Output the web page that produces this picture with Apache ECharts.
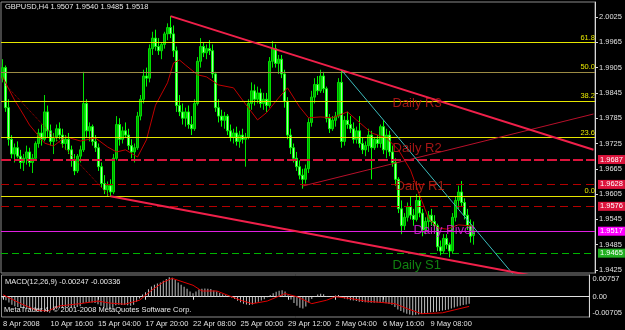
<!DOCTYPE html>
<html><head><meta charset="utf-8">
<script src="https://cdn.jsdelivr.net/npm/echarts@6/dist/echarts.min.js"></script>
<style>html,body{margin:0;padding:0;background:#000;}#c{width:625px;height:330px;}</style>
</head><body><div id="c"></div>
<script>
// ---------- DATA ----------
const symbolName = 'GBPUSD,H4';
// [open, high, low, close] per H4 bar
const candles = [
[1.9880,1.9925,1.9870,1.9905],[1.9905,1.9910,1.9800,1.9810],[1.9810,1.9830,1.9720,1.9735],[1.9735,1.9745,1.9690,1.9700],
[1.9700,1.9725,1.9680,1.9715],[1.9715,1.9730,1.9690,1.9695],[1.9695,1.9710,1.9665,1.9680],[1.9680,1.9700,1.9660,1.9690],
[1.9690,1.9720,1.9675,1.9705],[1.9705,1.9715,1.9670,1.9680],[1.9680,1.9700,1.9655,1.9690],[1.9690,1.9730,1.9685,1.9725],
[1.9725,1.9760,1.9715,1.9750],[1.9750,1.9770,1.9720,1.9735],[1.9735,1.9840,1.9730,1.9800],[1.9800,1.9815,1.9740,1.9755],
[1.9755,1.9770,1.9720,1.9730],[1.9730,1.9750,1.9700,1.9740],[1.9740,1.9770,1.9730,1.9760],[1.9760,1.9775,1.9735,1.9745],
[1.9745,1.9760,1.9715,1.9725],[1.9725,1.9745,1.9710,1.9735],[1.9735,1.9750,1.9700,1.9710],[1.9710,1.9720,1.9670,1.9685],
[1.9685,1.9700,1.9650,1.9660],[1.9660,1.9700,1.9655,1.9695],[1.9695,1.9720,1.9680,1.9710],[1.9710,1.9895,1.9705,1.9820],
[1.9820,1.9830,1.9740,1.9755],[1.9755,1.9775,1.9730,1.9765],[1.9765,1.9770,1.9720,1.9730],[1.9730,1.9745,1.9705,1.9715],
[1.9715,1.9725,1.9660,1.9670],[1.9670,1.9680,1.9620,1.9630],[1.9630,1.9650,1.9605,1.9615],[1.9615,1.9635,1.9600,1.9625],
[1.9625,1.9640,1.9600,1.9610],[1.9610,1.9700,1.9605,1.9690],[1.9690,1.9790,1.9685,1.9770],[1.9770,1.9785,1.9720,1.9735],
[1.9735,1.9765,1.9725,1.9755],[1.9755,1.9775,1.9740,1.9745],[1.9745,1.9760,1.9710,1.9720],[1.9720,1.9735,1.9690,1.9705],
[1.9705,1.9725,1.9680,1.9715],[1.9715,1.9800,1.9710,1.9790],[1.9790,1.9840,1.9780,1.9830],[1.9830,1.9900,1.9820,1.9885],
[1.9885,1.9905,1.9860,1.9880],[1.9880,1.9960,1.9870,1.9950],[1.9950,1.9990,1.9935,1.9975],[1.9975,1.9995,1.9945,1.9955],
[1.9955,1.9975,1.9935,1.9945],[1.9945,1.9965,1.9925,1.9960],[1.9960,1.9990,1.9950,1.9985],[1.9985,2.0010,1.9970,2.0000],
[2.0000,2.0027,1.9975,1.9985],[1.9985,2.0005,1.9930,1.9945],[1.9945,1.9955,1.9800,1.9815],[1.9815,1.9840,1.9790,1.9800],
[1.9800,1.9820,1.9770,1.9785],[1.9785,1.9810,1.9765,1.9800],[1.9800,1.9815,1.9760,1.9770],[1.9770,1.9790,1.9745,1.9760],
[1.9760,1.9830,1.9755,1.9820],[1.9820,1.9930,1.9815,1.9920],[1.9920,1.9975,1.9905,1.9955],[1.9955,1.9965,1.9930,1.9940],
[1.9940,1.9960,1.9925,1.9950],[1.9950,1.9970,1.9935,1.9945],[1.9945,1.9960,1.9880,1.9890],[1.9890,1.9895,1.9800,1.9810],
[1.9810,1.9830,1.9775,1.9790],[1.9790,1.9805,1.9765,1.9780],[1.9780,1.9800,1.9760,1.9790],[1.9790,1.9795,1.9745,1.9755],
[1.9755,1.9770,1.9730,1.9740],[1.9740,1.9760,1.9725,1.9750],[1.9750,1.9765,1.9720,1.9730],[1.9730,1.9755,1.9715,1.9745],
[1.9745,1.9760,1.9725,1.9735],[1.9735,1.9750,1.9670,1.9740],[1.9740,1.9830,1.9735,1.9820],[1.9820,1.9870,1.9805,1.9850],
[1.9850,1.9865,1.9815,1.9830],[1.9830,1.9860,1.9820,1.9845],[1.9845,1.9855,1.9810,1.9820],[1.9820,1.9845,1.9805,1.9830],
[1.9830,1.9845,1.9800,1.9815],[1.9815,1.9930,1.9810,1.9920],[1.9920,1.9968,1.9905,1.9950],[1.9950,1.9960,1.9905,1.9915],
[1.9915,1.9935,1.9890,1.9925],[1.9925,1.9935,1.9880,1.9890],[1.9890,1.9900,1.9810,1.9825],[1.9825,1.9835,1.9735,1.9745],
[1.9745,1.9760,1.9700,1.9715],[1.9715,1.9725,1.9680,1.9690],[1.9690,1.9705,1.9660,1.9670],[1.9670,1.9685,1.9640,1.9650],
[1.9650,1.9665,1.9618,1.9640],[1.9640,1.9675,1.9630,1.9665],[1.9665,1.9785,1.9655,1.9775],[1.9775,1.9850,1.9765,1.9835],
[1.9835,1.9880,1.9820,1.9865],[1.9865,1.9885,1.9840,1.9850],[1.9850,1.9900,1.9845,1.9885],[1.9885,1.9895,1.9845,1.9855],
[1.9855,1.9860,1.9775,1.9785],[1.9785,1.9795,1.9750,1.9760],[1.9760,1.9790,1.9755,1.9780],[1.9780,1.9800,1.9765,1.9790],
[1.9790,1.9880,1.9785,1.9870],[1.9870,1.9897,1.9715,1.9730],[1.9730,1.9790,1.9720,1.9780],[1.9780,1.9800,1.9760,1.9770],
[1.9770,1.9790,1.9750,1.9760],[1.9760,1.9775,1.9725,1.9735],[1.9735,1.9765,1.9725,1.9755],[1.9755,1.9790,1.9715,1.9725],
[1.9725,1.9740,1.9700,1.9710],[1.9710,1.9730,1.9695,1.9720],[1.9720,1.9760,1.9705,1.9745],[1.9745,1.9755,1.9640,1.9715],
[1.9715,1.9740,1.9710,1.9735],[1.9735,1.9745,1.9715,1.9725],[1.9725,1.9770,1.9715,1.9765],[1.9765,1.9780,1.9700,1.9710],
[1.9710,1.9760,1.9690,1.9745],[1.9745,1.9755,1.9695,1.9705],[1.9705,1.9720,1.9670,1.9680],[1.9680,1.9690,1.9625,1.9640],
[1.9640,1.9645,1.9560,1.9570],[1.9570,1.9590,1.9510,1.9530],[1.9530,1.9560,1.9520,1.9550],[1.9550,1.9585,1.9540,1.9575],
[1.9575,1.9600,1.9545,1.9555],[1.9555,1.9570,1.9530,1.9545],[1.9545,1.9605,1.9540,1.9590],[1.9590,1.9600,1.9550,1.9560],
[1.9560,1.9570,1.9505,1.9520],[1.9520,1.9550,1.9510,1.9540],[1.9540,1.9565,1.9525,1.9555],[1.9555,1.9570,1.9530,1.9540],
[1.9540,1.9555,1.9520,1.9530],[1.9530,1.9535,1.9470,1.9480],[1.9480,1.9495,1.9460,1.9470],[1.9470,1.9510,1.9465,1.9500],
[1.9500,1.9510,1.9475,1.9485],[1.9485,1.9490,1.9455,1.9470],[1.9470,1.9560,1.9465,1.9550],[1.9550,1.9600,1.9540,1.9590],
[1.9590,1.9625,1.9570,1.9610],[1.9610,1.9636,1.9575,1.9585],[1.9585,1.9595,1.9545,1.9555],[1.9555,1.9570,1.9520,1.9530],
[1.9530,1.9545,1.9490,1.9505],[1.9507,1.9540,1.9485,1.9518]
];
// moving average (bar index, price)
const maPoints = [[0,1.9883],[4,1.9828],[6,1.9805],[9,1.9769],[14,1.9726],[17,1.9719],[21,1.9741],[26,1.9731],[31,1.9738],[35,1.9717],[38,1.9705],[41,1.9710],[45,1.9693],[48,1.9734],[51,1.9816],[55,1.9869],[57,1.9916],[59,1.9923],[61,1.9911],[65,1.9888],[68,1.9883],[72,1.9864],[77,1.9857],[80,1.9828],[83,1.9800],[85,1.9781],[88,1.9798],[92,1.9833],[95,1.9857],[99,1.9812],[102,1.9786],[106,1.9788],[110,1.9786],[115,1.9800],[118,1.9781],[123,1.9750],[128,1.9738],[132,1.9710],[136,1.9662],[139,1.9603],[142,1.9548],[145,1.9525],[148,1.9522],[152,1.9532],[157,1.9529]];
// MACD main (histogram) per bar
const macdHist = [-0.0005,-0.0012,-0.0020,-0.0028,-0.0033,-0.0036,-0.0039,-0.0041,-0.0042,-0.0043,-0.0044,-0.0046,-0.0049,-0.0051,-0.0053,-0.0050,-0.0048,-0.0045,-0.0042,-0.0040,-0.0039,-0.0037,-0.0036,-0.0037,-0.0038,-0.0036,-0.0033,-0.0022,-0.0020,-0.0019,-0.0020,-0.0022,-0.0026,-0.0031,-0.0036,-0.0040,-0.0042,-0.0038,-0.0030,-0.0028,-0.0029,-0.0029,-0.0030,-0.0031,-0.0028,-0.0017,-0.0006,0.0008,0.0016,0.0026,0.0036,0.0042,0.0046,0.0050,0.0056,0.0062,0.0068,0.0066,0.0058,0.0050,0.0042,0.0035,0.0028,0.0018,0.0012,0.0018,0.0025,0.0028,0.0029,0.0028,0.0027,0.0022,0.0018,0.0013,0.0009,0.0005,0.0002,-0.0003,-0.0008,-0.0014,-0.0019,-0.0024,-0.0027,-0.0029,-0.0027,-0.0022,-0.0017,-0.0013,-0.0009,-0.0002,0.0006,0.0012,0.0017,0.0021,0.0023,0.0018,0.0005,-0.0010,-0.0022,-0.0031,-0.0038,-0.0041,-0.0034,-0.0020,-0.0008,0.0002,0.0008,0.0010,0.0009,0.0003,0.0000,0.0002,0.0004,0.0006,0.0001,-0.0006,-0.0009,-0.0012,-0.0013,-0.0015,-0.0017,-0.0018,-0.0019,-0.0020,-0.0021,-0.0021,-0.0020,-0.0021,-0.0022,-0.0023,-0.0025,-0.0028,-0.0036,-0.0044,-0.0050,-0.0055,-0.0059,-0.0062,-0.0064,-0.0063,-0.0062,-0.0060,-0.0058,-0.0056,-0.0054,-0.0053,-0.0052,-0.0050,-0.0048,-0.0046,-0.0044,-0.0041,-0.0037,-0.0034,-0.0031,-0.0029,-0.0027,-0.00247];
// MACD signal line (bar index, value)
const macdSignal = [[0,0.0007],[6,-0.0024],[11,-0.0046],[15,-0.0050],[19,-0.0032],[26,-0.0024],[32,-0.0015],[36,-0.0022],[41,-0.0026],[46,-0.0012],[50,0.0022],[54,0.0051],[57,0.0064],[64,0.0040],[67,0.0020],[72,0.0020],[80,-0.0012],[84,-0.0024],[89,-0.0015],[95,0.0011],[99,0.0000],[104,-0.0024],[109,-0.0012],[112,0.0000],[117,-0.0006],[122,-0.0015],[132,-0.0024],[136,-0.0041],[141,-0.0059],[148,-0.0056],[152,-0.0046],[157,-0.00336]];
const macdParams = '12,26,9';
const macdRange = [-0.00705, 0.00757];
// fibonacci levels
const fibLabels = ['61.8','50.0','38.2','23.6','0.0'];
const fibValues = [1.9964, 1.9895, 1.9826, 1.9739, 1.9600];
// daily pivot lines (price boxes on the right)
const pivotValues = [1.9687, 1.9628, 1.9576, 1.9517, 1.9465];
// trendline anchors [barIndex, price]
const trendUpper = [[56,2.0027],[113,1.9899]];
const trendLower = [[36,1.9600],[136,1.9466]];
const trendCyan  = [[113,1.9899],[169,1.9425]];
const trendRise  = [[100,1.9624],[197,1.9795]];
const trendDotted = [[1,1.9864],[36,1.9598]];
// text objects
const noteTexts = ['Daily R3','Daily R2','Daily R1','Daily Pivot','Daily S1'];
const noteAnchors = [[130,1.9820],[130,1.9714],[131,1.9624],[137,1.9518],[130,1.9437]];
// axis ticks
const priceTicks = [2.0025,1.9965,1.9905,1.9845,1.9785,1.9725,1.9665,1.9605,1.9545,1.9485,1.9425];
const priceRange = [1.94179, 2.00606];
const timeLabels = ['8 Apr 2008','10 Apr 16:00','15 Apr 04:00','17 Apr 20:00','22 Apr 08:00','25 Apr 00:00','29 Apr 12:00','2 May 04:00','6 May 16:00','9 May 08:00'];
const labelStep = 16;
const slotCount = 198; // includes right chart shift

// ---------- STYLES ----------
const FONT = '"Liberation Sans", Arial, sans-serif';
const FS = 7.5;
const TXT = '#e0e0e0';
const fibColors = ['#e6e600','#9c8b44','#e6e600','#e6e600','#e6e600'];
const pivotStyles = [
  {line:'#dc143c', type:[10,3], width:2, box:'#dc143c'},
  {line:'#b40000', type:[8,5], width:1, box:'#dc143c'},
  {line:'#b40000', type:[8,5], width:1, box:'#dc143c'},
  {line:'#e020e0', type:'solid', width:1, box:'#ff00ff'},
  {line:'#00b400', type:[7,4], width:1, box:'#22b022'}
];
const noteColors = ['#cc1a1a','#cc1a1a','#c02818','#e020e0','#14a014'];

// ---------- BUILD ----------
const cats = Array.from({length: slotCount}, (_, i) => String(i));
const last = candles[candles.length - 1];
const ray = (pts) => {
  const [a, b] = pts; const k = (b[1]-a[1])/(b[0]-a[0]);
  return [a, b, [slotCount-1, b[1] + k*(slotCount-1-b[0])]];
};
const lineSeries = (name, data, color, width, type, z) => ({
  type:'line', name, xAxisIndex:0, yAxisIndex:0, data, symbol:'none', clip:true,
  lineStyle:{color, width, type: type||'solid'}, z: z||4, silent:true, animation:false
});

const markData = [];
fibValues.forEach((v, i) => markData.push({
  yAxis: v, lineStyle:{color: fibColors[i], width:1, type:'solid'},
  label:{show:true, position:'insideEndTop', formatter: fibLabels[i], color:'#e6e600', fontSize:FS, fontFamily:FONT, distance:[0,1]}
}));
pivotValues.forEach((v, i) => { const s = pivotStyles[i]; markData.push({
  yAxis: v, lineStyle:{color: s.line, width:s.width, type:s.type},
  label:{show:true, position:'end', formatter: v.toFixed(4), color:'#ffffff', backgroundColor:s.box, padding:[1,2,0,2], fontSize:FS, fontFamily:FONT, distance:3}
}); });

const option = {
  backgroundColor:'#000000',
  animation:false,
  textStyle:{fontFamily:FONT},
  grid:[
    {left:1, right:30, top:2, height:271, show:true, borderColor:'#8a8a8a', borderWidth:1},
    {left:1, right:30, top:275, height:42, show:true, borderColor:'#8a8a8a', borderWidth:1}
  ],
  xAxis:[
    {type:'category', gridIndex:0, data:cats, boundaryGap:true, axisLine:{show:false}, axisTick:{show:false}, axisLabel:{show:false}, splitLine:{show:false}},
    {type:'category', gridIndex:1, data:cats, boundaryGap:true,
     axisLine:{show:true, lineStyle:{color:'#e0e0e0', width:1}},
     axisTick:{show:true, alignWithLabel:true, length:3, lineStyle:{color:'#e0e0e0'}, interval:(i)=> i%labelStep===0 && i/labelStep<timeLabels.length},
     axisLabel:{show:true, interval:(i)=> i%labelStep===0 && i/labelStep<timeLabels.length, formatter:(v,i)=> timeLabels[i/labelStep]||'', align:'left', color:TXT, fontSize:FS, fontFamily:FONT, margin:3},
     splitLine:{show:false}}
  ],
  yAxis:[
    {type:'value', gridIndex:0, position:'right', min:priceRange[0], max:priceRange[1], scale:true,
     axisLine:{show:true, lineStyle:{color:'#d8d8d8'}}, splitLine:{show:false},
     axisTick:{show:true, length:3, customValues:priceTicks, lineStyle:{color:'#d8d8d8'}},
     axisLabel:{show:true, customValues:priceTicks, formatter:(v)=>v.toFixed(4), color:TXT, fontSize:FS, fontFamily:FONT, margin:4}},
    {type:'value', gridIndex:1, position:'right', min:macdRange[0], max:macdRange[1],
     axisLine:{show:true, lineStyle:{color:'#d8d8d8'}}, splitLine:{show:false},
     axisTick:{show:false},
     axisLabel:{show:true, customValues:[macdRange[1], 0, macdRange[0]], color:TXT, fontSize:FS, fontFamily:FONT, margin:3,
       formatter:(v)=> v===macdRange[1] ? '{t|'+v.toFixed(5)+'}' : (v===macdRange[0] ? '{b|'+v.toFixed(5)+'}' : '0.00'),
       rich:{t:{padding:[8,0,0,0], color:TXT, fontSize:FS, fontFamily:FONT}, b:{padding:[0,0,8,0], color:TXT, fontSize:FS, fontFamily:FONT}}}}
  ],
  graphic:[
    {type:'text', left:5, top:3, z:100, style:{text: symbolName+' '+last.map(v=>v.toFixed(4)).join(' '), fill:'#e8e8e8', fontSize:FS, fontFamily:FONT}},
    {type:'text', left:5, top:278, z:100, style:{text: 'MACD('+macdParams+') '+macdHist[macdHist.length-1].toFixed(5)+' '+macdSignal[macdSignal.length-1][1].toFixed(5), fill:'#e8e8e8', fontSize:FS, fontFamily:FONT}},
    {type:'text', left:4, top:306, z:100, style:{text: 'MetaTrader 4, \u00a9 2001-2008 MetaQuotes Software Corp.', fill:'#e8e8e8', fontSize:FS, fontFamily:FONT}}
  ],
  series:[
    {type:'line', name:'levels', xAxisIndex:0, yAxisIndex:0, data:[], symbol:'none', silent:true, z:1,
     markLine:{symbol:['none','none'], silent:true, animation:false, precision:5, data: markData}},
    {type:'candlestick', name:'price', xAxisIndex:0, yAxisIndex:0, barWidth:2, z:3,
     data: candles.map(c => [c[0], c[3], c[2], c[1]]),
     itemStyle:{color:'#00a000', borderColor:'#00e000', color0:'#a8f8a8', borderColor0:'#00ff00', borderWidth:1}},
    lineSeries('ma', maPoints, '#c00000', 1, 'solid', 4),
    lineSeries('dotted', trendDotted, '#b00000', 1, 'dotted', 5),
    lineSeries('rise', trendRise, '#b8102a', 1, 'solid', 5),
    lineSeries('cyan', ray(trendCyan), '#3cbcbc', 1, 'solid', 5),
    lineSeries('upper', ray(trendUpper), '#f0204a', 2, 'solid', 6),
    lineSeries('lower', ray(trendLower), '#f0204a', 2, 'solid', 6),
    {type:'scatter', name:'notes', xAxisIndex:0, yAxisIndex:0, symbolSize:0, z:8, silent:true,
     data: noteAnchors.map((a, i) => ({value:a, label:{color: noteColors[i]}})),
     label:{show:true, position:'right', distance:0, formatter:(p)=> noteTexts[p.dataIndex], fontSize:13, fontFamily:FONT}},
    {type:'bar', name:'macd', xAxisIndex:1, yAxisIndex:1, data: macdHist, barWidth:1, itemStyle:{color:'#c0c0c0'}, silent:true},
    {type:'line', name:'signal', xAxisIndex:1, yAxisIndex:1, data: macdSignal, symbol:'none', lineStyle:{color:'#e00000', width:1}, silent:true, z:4}
  ]
};
const chart = echarts.init(document.getElementById('c'), null, {renderer:'canvas'});
chart.setOption(option);
</script></body></html>
